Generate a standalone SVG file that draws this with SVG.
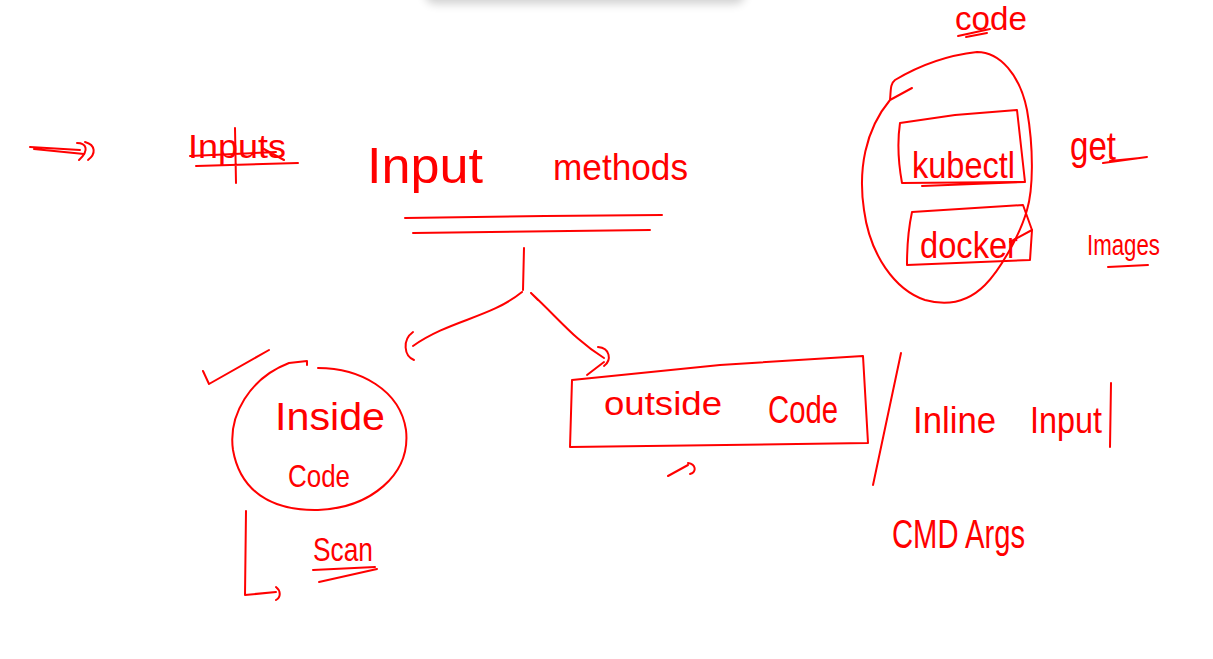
<svg xmlns="http://www.w3.org/2000/svg" width="1213" height="659" viewBox="0 0 1213 659">
<defs>
<filter id="blur" x="-20%" y="-200%" width="140%" height="500%"><feGaussianBlur stdDeviation="5"/></filter>
</defs>
<style>
.s{fill:none;stroke:#f00;stroke-width:2;stroke-linecap:round;stroke-linejoin:round}
.t{fill:#f00;font-family:"Liberation Sans",Arial,sans-serif}
</style>
<rect width="1213" height="659" fill="#fff"/>
<rect x="425" y="-18" width="320" height="22" rx="10" fill="#000" opacity="0.18" filter="url(#blur)"/>

<g id="connectors">
<path class="s" d="M30,147 L80,150 M34,149 L84,154"/>
<path class="s" d="M77,143 C86,143 90,150 79,160 M85,142 C96,145 96,154 88,160"/>
<path class="s" d="M524,248 L523,290"/>
<path class="s" d="M522,292 C490,318 450,320 413,346"/>
<path class="s" d="M413,332 C402,340 404,356 414,360"/>
<path class="s" d="M531,293 L538,300 M531,293 C560,320 575,340 604,358"/>
<path class="s" d="M598,347 C610,348 612,360 604,366 M587,375 L604,362"/>
<path class="s" d="M246,511 L245,595 L276,592 M276,587 C281,591 281,597 276,600"/>
<path class="s" d="M901,353 L873,485"/>
</g>

<g id="title-strike">
<text class="t" x="188" y="158" font-size="34" textLength="98" lengthAdjust="spacingAndGlyphs">Inputs</text>
<path class="s" d="M190,156 L276,152 M196,166 L298,163 M235,128 L236,183 M262,148 L284,160"/>
</g>

<g id="input-methods">
<text class="t" x="367" y="183" font-size="50" textLength="116" lengthAdjust="spacingAndGlyphs">Input</text>
<text class="t" x="553" y="180" font-size="36" textLength="135" lengthAdjust="spacingAndGlyphs">methods</text>
<path class="s" d="M405,218 L545,216 L662,215 M413,233 L650,230"/>
</g>

<g id="inside-code">
<path class="s" d="M203,371 L209,384 L269,350"/>
<path class="s" d="M289,363 L307,361 L307,365 M318,368 C360,368 400,390 406,430 C411,475 370,508 318,510 C270,511 240,490 233,450 C228,415 250,378 289,363"/>
<text class="t" x="275" y="430" font-size="38" textLength="110" lengthAdjust="spacingAndGlyphs">Inside</text>
<text class="t" x="288" y="487" font-size="32" textLength="62" lengthAdjust="spacingAndGlyphs">Code</text>
</g>

<g id="scan">
<text class="t" x="313" y="561" font-size="34" textLength="60" lengthAdjust="spacingAndGlyphs">Scan</text>
<path class="s" d="M313,570 L375,567 M319,582 L377,569"/>
</g>

<g id="outside-code">
<path class="s" d="M572,380 L720,365 L863,356 L868,443 L570,447 Z"/>
<text class="t" x="604" y="415" font-size="34" textLength="118" lengthAdjust="spacingAndGlyphs">outside</text>
<text class="t" x="768" y="423" font-size="38" textLength="70" lengthAdjust="spacingAndGlyphs">Code</text>
<path class="s" d="M668,476 L688,465 M688,463 C696,464 697,472 690,474"/>
</g>

<g id="inline-input">
<text class="t" x="913" y="433" font-size="36" textLength="83" lengthAdjust="spacingAndGlyphs">Inline</text>
<text class="t" x="1030" y="433" font-size="36" textLength="72" lengthAdjust="spacingAndGlyphs">Input</text>
<path class="s" d="M1111,383 L1110,447"/>
</g>

<g id="cmd-args">
<text class="t" x="892" y="548" font-size="40" textLength="133" lengthAdjust="spacingAndGlyphs">CMD Args</text>
</g>

<g id="code-group">
<text class="t" x="955" y="30" font-size="34" textLength="72" lengthAdjust="spacingAndGlyphs">code</text>
<path class="s" d="M958,36 L990,29 M966,37 L987,33"/>
<path class="s" d="M890,100 C891,90 890,84 895,80 C920,65 950,55 977,52 C1000,52 1020,75 1027,110 C1034,150 1033,190 1027,210 C1020,235 1000,270 985,285 C970,300 950,307 925,300 C895,290 870,255 864,210 C858,170 865,130 890,100 L912,88"/>
<path class="s" d="M900,123 L955,115 L1017,110 L1025,182 L902,183 Q896,150 900,123 M922,186 L1025,182"/>
<text class="t" x="912" y="178" font-size="36" textLength="103" lengthAdjust="spacingAndGlyphs">kubectl</text>
<path class="s" d="M912,212 L1023,205 L1032,230 L1030,260 L907,265 Q907,235 912,212"/>
<text class="t" x="920" y="258" font-size="36" textLength="98" lengthAdjust="spacingAndGlyphs">docker</text>
<path class="s" d="M1010,242 L1032,230"/>
</g>

<g id="get">
<text class="t" x="1070" y="160" font-size="40" textLength="46" lengthAdjust="spacingAndGlyphs">get</text>
<path class="s" d="M1103,163 L1147,157 M1110,161 L1140,158"/>
</g>

<g id="images">
<text class="t" x="1087" y="255" font-size="30" textLength="73" lengthAdjust="spacingAndGlyphs">Images</text>
<path class="s" d="M1108,267 L1148,265"/>
</g>
</svg>
